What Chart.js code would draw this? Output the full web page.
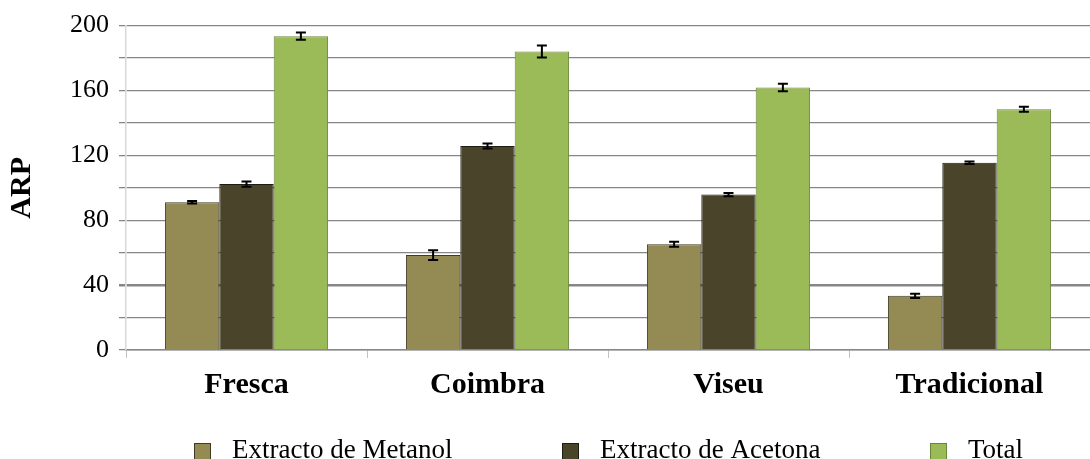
<!DOCTYPE html>
<html>
<head>
<meta charset="utf-8">
<script src="https://cdn.jsdelivr.net/npm/chart.js@4"></script>
<style>
  html, body { margin: 0; padding: 0; background: #fff; overflow: hidden; }
  #wrap { width: 1090px; height: 459px; position: relative; }
</style>
</head>
<body>
<div id="wrap"><canvas id="chart"></canvas></div>
<script>
// data
const categories = ['Fresca', 'Coimbra', 'Viseu', 'Tradicional'];
const seriesNames = ['Extracto de Metanol', 'Extracto de Acetona', 'Total'];
const metanol = [91.1, 58.5, 65.2, 33.4];
const acetona = [102.3, 125.8, 95.8, 115.4];
const total = [193.5, 184.0, 161.9, 148.4];
const metanolErr = [0.8, 3.0, 1.5, 1.3];
const acetonaErr = [1.6, 1.5, 1.0, 0.8];
const totalErr = [2.2, 3.7, 2.3, 1.5];

const fillColors = ['#948A54', '#4A452A', '#9BBB59'];
const edgeColors = ['#3f3b24', '#1f1d12', '#6b8539'];
const serif = "'Liberation Serif', 'Times New Roman', serif";

const errorBars = {
  id: 'errorBars',
  afterDatasetsDraw(chart) {
    const ctx = chart.ctx;
    const y = chart.scales.y;
    ctx.save();
    ctx.strokeStyle = '#000';
    ctx.lineWidth = 2;
    chart.data.datasets.forEach((ds, i) => {
      const meta = chart.getDatasetMeta(i);
      meta.data.forEach((bar, j) => {
        const v = ds.data[j], e = ds.errors[j];
        const top = y.getPixelForValue(v + e);
        const bot = y.getPixelForValue(v - e);
        ctx.beginPath();
        ctx.moveTo(bar.x, top); ctx.lineTo(bar.x, bot);
        ctx.moveTo(bar.x - 5, top); ctx.lineTo(bar.x + 5, top);
        ctx.moveTo(bar.x - 5, bot); ctx.lineTo(bar.x + 5, bot);
        ctx.stroke();
      });
    });
    ctx.restore();
  }
};

const bottomLegend = {
  id: 'bottomLegend',
  afterDraw(chart) {
    const ctx = chart.ctx;
    ctx.save();
    ctx.font = '27px ' + serif;
    ctx.textBaseline = 'alphabetic';
    chart.data.datasets.forEach((ds, i) => {
      const x = 194 + i * 368;
      ctx.fillStyle = ds.backgroundColor;
      ctx.fillRect(x, 443, 17, 17);
      ctx.strokeStyle = ds.borderColor;
      ctx.lineWidth = 1;
      ctx.strokeRect(x + 0.5, 443.5, 16, 16);
      ctx.fillStyle = '#000';
      ctx.fillText(ds.label, x + 38, 458);
    });
    ctx.restore();
  }
};

const ctx = document.getElementById('chart').getContext('2d');
new Chart(ctx, {
  type: 'bar',
  data: {
    labels: categories,
    datasets: [
      { label: seriesNames[0], data: metanol, errors: metanolErr, backgroundColor: fillColors[0], borderColor: edgeColors[0], borderWidth: 1 },
      { label: seriesNames[1], data: acetona, errors: acetonaErr, backgroundColor: fillColors[1], borderColor: edgeColors[1], borderWidth: 1 },
      { label: seriesNames[2], data: total, errors: totalErr, backgroundColor: fillColors[2], borderColor: edgeColors[2], borderWidth: 1 }
    ]
  },
  options: {
    responsive: true,
    maintainAspectRatio: false,
    animation: false,
    layout: { padding: { top: 23, right: 0, bottom: 50, left: 0 } },
    datasets: { bar: { barPercentage: 1, categoryPercentage: 0.677 } },
    plugins: { legend: { display: false }, tooltip: { enabled: false } },
    scales: {
      x: {
        grid: { offset: true, drawOnChartArea: false, drawTicks: true, tickLength: 8, color: '#c0c0c0' },
        border: { color: '#878787', width: 1.5 },
        ticks: { color: '#000', padding: 9, font: { family: serif, size: 30, weight: 'bold' } },
        afterFit(s) { s.height = 59; }
      },
      y: {
        min: 0, max: 200,
        grid: {
          color: '#878787',
          lineWidth: c => (c.tick && c.tick.value === 40 ? 2.5 : 1.3),
          tickLength: 7
        },
        border: { color: '#d9d9d9', width: 1.5 },
        ticks: {
          stepSize: 20, autoSkip: false, color: '#000', padding: 10,
          font: { family: serif, size: 26 },
          callback: v => (v % 40 === 0 ? v : '')
        },
        title: { display: true, text: 'ARP', color: '#000', padding: { top: 4, bottom: 0 }, font: { family: serif, size: 30, weight: 'bold' } },
        afterFit(s) { s.width = 126; }
      }
    }
  },
  plugins: [errorBars, bottomLegend]
});
</script>
</body>
</html>
